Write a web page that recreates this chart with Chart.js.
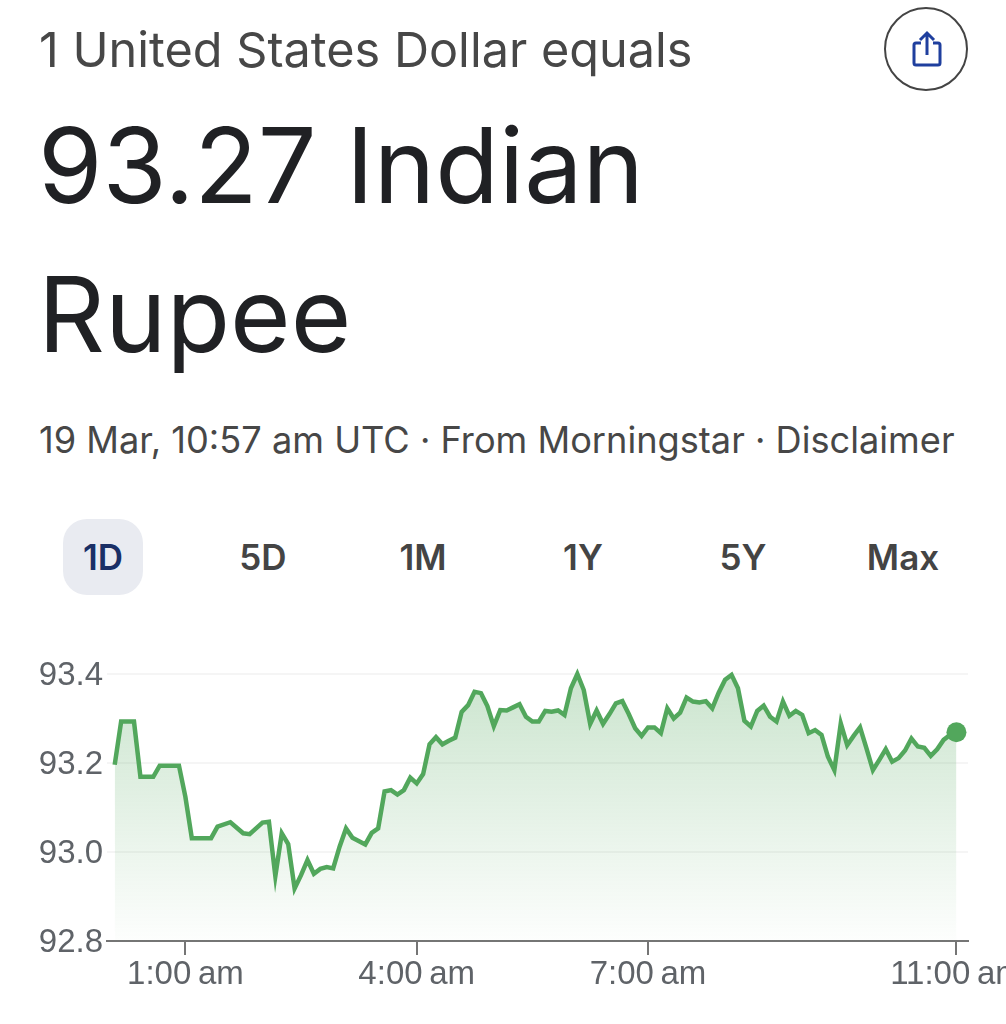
<!DOCTYPE html>
<html>
<head>
<meta charset="utf-8">
<script src="https://cdn.jsdelivr.net/npm/chart.js@4"></script>
<style>
  html, body { margin: 0; padding: 0; background: #fff; }
  body { position: relative; width: 1006px; height: 1024px; overflow: hidden; font-family: Inter, sans-serif; }
  .txt { position: absolute; white-space: nowrap; line-height: 1; }
  #lead { left: 39px; top: 26px; font-size: 48.6px; color: #474747; }
  .big { left: 38px; font-size: 104px; color: #202124; }
  #meta { left: 39px; top: 422px; font-size: 36.2px; color: #474747; }
  #share { position: absolute; left: 884px; top: 7px; width: 80px; height: 80px; border: 2px solid #444; border-radius: 50%; }
  #pill { position: absolute; left: 63px; top: 519px; width: 80px; height: 76px; border-radius: 24px; background: #e9ebf1; }
  .tab { width: 160px; top: 540px; text-align: center; font-size: 35px; font-weight: 600; color: #444; }
  #chartBox { position: absolute; left: 0; top: 640px; }
</style>
</head>
<body>
<div class="txt" id="lead">1 United States Dollar equals</div>
<div id="share">
  <svg width="82" height="82" viewBox="0 0 82 82">
    <path d="M35 34 h-5 a2 2 0 0 0 -2 2 v18 a2 2 0 0 0 2 2 h22 a2 2 0 0 0 2 -2 v-18 a2 2 0 0 0 -2 -2 h-5" fill="none" stroke="#1f3f9e" stroke-width="3"/>
    <path d="M41 46 v-22 M34 31 l7 -7 l7 7" fill="none" stroke="#1f3f9e" stroke-width="3"/>
  </svg>
</div>
<div class="txt big" style="top:113px">93.27 Indian</div>
<div class="txt big" style="top:262px">Rupee</div>
<div class="txt" id="meta">19 Mar, 10:57 am UTC · From Morningstar · Disclaimer</div>
<div id="pill"></div>
<div id="tabs"></div>
<div id="chartBox"><canvas id="chart" width="1006" height="384"></canvas></div>

<script>
const ranges = ['1D', '5D', '1M', '1Y', '5Y', 'Max'];

// minutes after midnight
const minutes = [
  5, 10, 20, 25, 35, 40, 55, 60, 65, 80, 85, 95, 105, 110, 120, 125, 130, 135, 140, 145,
  150, 155, 160, 165, 170, 175, 180, 185, 190, 200, 205, 210, 215, 220, 225, 230, 235, 240, 245, 250,
  255, 260, 265, 270, 275, 280, 285, 290, 295, 300, 305, 310, 315, 320, 325, 330, 335, 340, 345, 350,
  355, 360, 365, 370, 375, 380, 385, 390, 395, 400, 405, 410, 415, 420, 425, 430, 435, 440, 445, 450,
  455, 460, 465, 470, 475, 480, 485, 490, 495, 500, 505, 510, 515, 520, 525, 530, 535, 540, 545, 550,
  555, 560, 565, 570, 575, 580, 585, 590, 595, 600, 605, 610, 615, 620, 625, 630, 635, 640, 645, 650,
  655, 660
];
const rates = [
  93.196, 93.293, 93.293, 93.169, 93.169, 93.194, 93.194, 93.124, 93.031, 93.031, 93.057, 93.067, 93.042, 93.040, 93.066, 93.068, 92.946, 93.042, 93.018, 92.918,
  92.948, 92.982, 92.951, 92.962, 92.966, 92.963, 93.012, 93.053, 93.032, 93.017, 93.043, 93.053, 93.136, 93.139, 93.129, 93.139, 93.167, 93.154, 93.175, 93.242,
  93.258, 93.242, 93.250, 93.257, 93.315, 93.330, 93.360, 93.357, 93.328, 93.283, 93.319, 93.318, 93.325, 93.332, 93.304, 93.293, 93.293, 93.317, 93.315, 93.318,
  93.308, 93.368, 93.400, 93.364, 93.288, 93.318, 93.288, 93.310, 93.334, 93.339, 93.310, 93.278, 93.261, 93.280, 93.280, 93.267, 93.323, 93.300, 93.313, 93.347,
  93.338, 93.336, 93.339, 93.323, 93.358, 93.387, 93.398, 93.368, 93.295, 93.282, 93.317, 93.329, 93.304, 93.293, 93.338, 93.306, 93.317, 93.308, 93.267, 93.274,
  93.263, 93.214, 93.184, 93.289, 93.240, 93.261, 93.280, 93.233, 93.184, 93.207, 93.231, 93.203, 93.211, 93.228, 93.255, 93.237, 93.234, 93.216, 93.231, 93.252,
  93.263, 93.269
];
const tickMinutes = [60, 240, 420, 660];
const tickLabels = ['1:00\u2009am', '4:00\u2009am', '7:00\u2009am', '11:00\u2009am'];
const yTicks = [92.8, 93.0, 93.2, 93.4];

const tabs = document.getElementById('tabs');
ranges.forEach((r, i) => {
  const d = document.createElement('div');
  d.className = 'txt tab';
  d.textContent = r;
  d.style.left = (23 + i * 160) + 'px';
  if (i === 0) d.style.color = '#1a2f66';
  tabs.appendChild(d);
});

const green = '#52a75c';
const axisFont = { family: '"Liberation Sans", sans-serif', size: 33 };

new Chart(document.getElementById('chart'), {
  type: 'line',
  data: {
    datasets: [{
      data: minutes.map((m, i) => ({ x: m, y: rates[i] })),
      borderColor: green,
      borderWidth: 4.5,
      tension: 0,
      clip: false,
      fill: 'start',
      backgroundColor(ctx) {
        const area = ctx.chart.chartArea;
        if (!area) return 'transparent';
        const g = ctx.chart.ctx.createLinearGradient(0, area.top, 0, area.bottom);
        g.addColorStop(0, 'rgba(82,167,92,0.3)');
        g.addColorStop(1, 'rgba(82,167,92,0.01)');
        return g;
      },
      pointBackgroundColor: green,
      pointBorderWidth: 0,
      pointRadius: ctx => (ctx.dataIndex === minutes.length - 1 ? 10 : 0)
    }]
  },
  options: {
    responsive: false,
    animation: false,
    events: [],
    layout: { padding: { top: 34, right: 38, left: 0, bottom: 0 } },
    plugins: { legend: { display: false }, tooltip: { enabled: false } },
    scales: {
      x: {
        type: 'linear',
        min: -1,
        max: 669,
        afterBuildTicks(scale) { scale.ticks = tickMinutes.map(v => ({ value: v })); },
        afterFit(scale) { scale.height = 83; scale.paddingLeft = 0; scale.paddingRight = 0; },
        grid: { drawOnChartArea: false, color: '#757575', lineWidth: 2, tickLength: 14 },
        border: { color: '#757575', width: 2 },
        ticks: {
          color: '#5f6368',
          font: axisFont,
          padding: 0,
          autoSkip: false,
          maxRotation: 0,
          callback(v) { return tickLabels[tickMinutes.indexOf(v)]; }
        }
      },
      y: {
        min: 92.8,
        max: 93.4,
        afterBuildTicks(scale) { scale.ticks = yTicks.map(v => ({ value: v })); },
        afterFit(scale) { scale.width = 107; },
        grid: { color: '#f5f5f5', lineWidth: 2, drawTicks: false },
        border: { display: false },
        ticks: {
          color: '#5f6368',
          font: axisFont,
          padding: 4,
          labelOffset: 2,
          callback(v) { return v.toFixed(1); }
        }
      }
    }
  }
});
</script>
</body>
</html>
